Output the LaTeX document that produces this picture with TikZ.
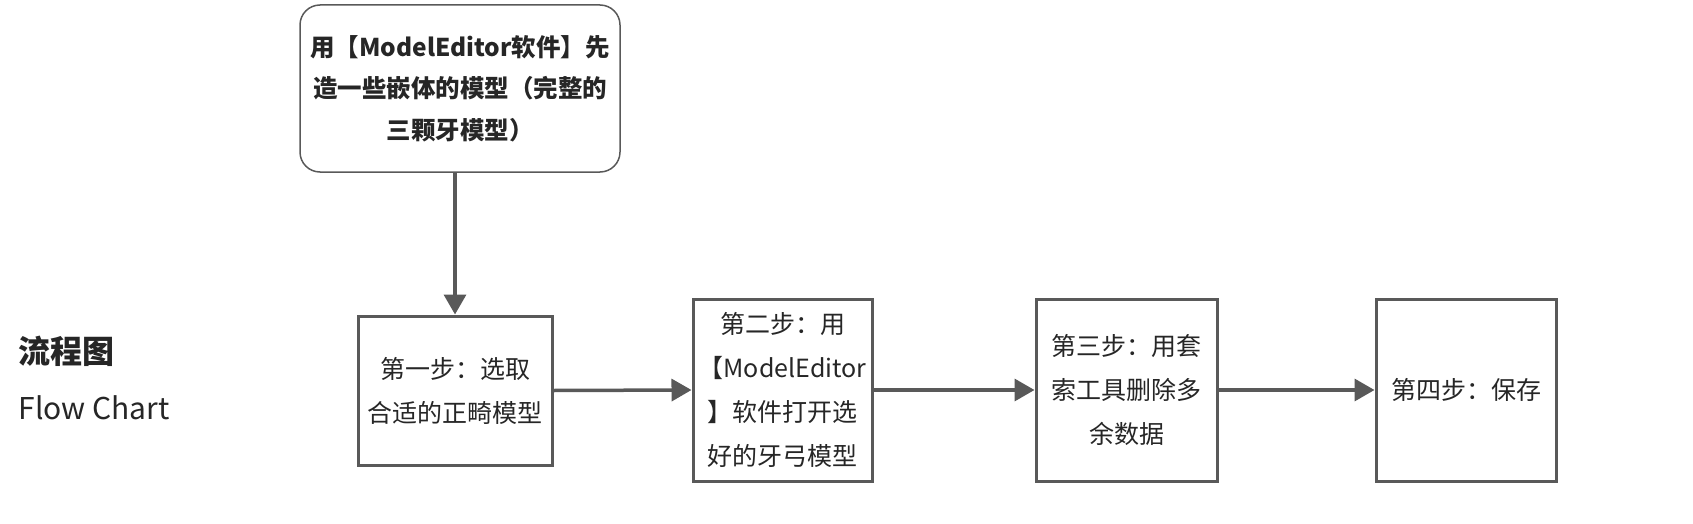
\documentclass[tikz,border=0pt]{standalone}
\usepackage{fontspec}
\setmainfont{Noto Sans CJK SC}
\usetikzlibrary{arrows.meta}
\definecolor{linegray}{HTML}{595959}
\definecolor{textgray}{HTML}{262626}
\tikzset{
  stepbox/.style={draw=linegray, line width=3pt, rectangle, align=center,
    text=textgray, font={\fontsize{25}{44}\selectfont}, inner sep=0pt},
  startbox/.style={stepbox, rounded corners=20pt, line width=1.5pt,
    font={\fontsize{24.5}{41.5}\selectfont\bfseries}},
  flow/.style={draw=linegray, line width=3.5pt, -{Triangle[length=20pt,width=22pt]}}
}
\begin{document}
\begin{tikzpicture}[x=1pt,y=-1pt]
      \useasboundingbox (0,0) rectangle (1693,524);
      \draw
        (460,88.5) node[startbox, minimum width=320pt, minimum height=167pt] (start)
          {用【ModelEditor软件】先\\造一些嵌体的模型（完整的\\三颗牙模型）}
        (455,390.5) node[stepbox, minimum width=194pt, minimum height=149pt] (s1)
          {第一步：选取\\合适的正畸模型}
        (782.5,390) node[stepbox, minimum width=179pt, minimum height=182pt] (s2)
          {第二步：用\\【ModelEditor\\】软件打开选\\好的牙弓模型}
        (1126.5,390) node[stepbox, minimum width=181pt, minimum height=182pt] (s3)
          {第三步：用套\\索工具删除多\\余数据}
        (1466,390) node[stepbox, minimum width=180pt, minimum height=182pt] (s4)
          {第四步：保存};
      \node[anchor=west, text=textgray, font={\fontsize{32}{36}\selectfont\bfseries}] (title) at (15,351) {流程图};
      \node[anchor=west, text=textgray, font={\fontsize{30}{34}\selectfont}] (subtitle) at (15,408) {Flow Chart};
      \begin{scope}[flow]
        \draw (start.south -| s1.north) -- (s1.north);
        \draw (s1.east) -- (s2.west);
        \draw (s2.east) -- (s3.west);
        \draw (s3.east) -- (s4.west);
      \end{scope}
    \end{tikzpicture}
\end{document}
